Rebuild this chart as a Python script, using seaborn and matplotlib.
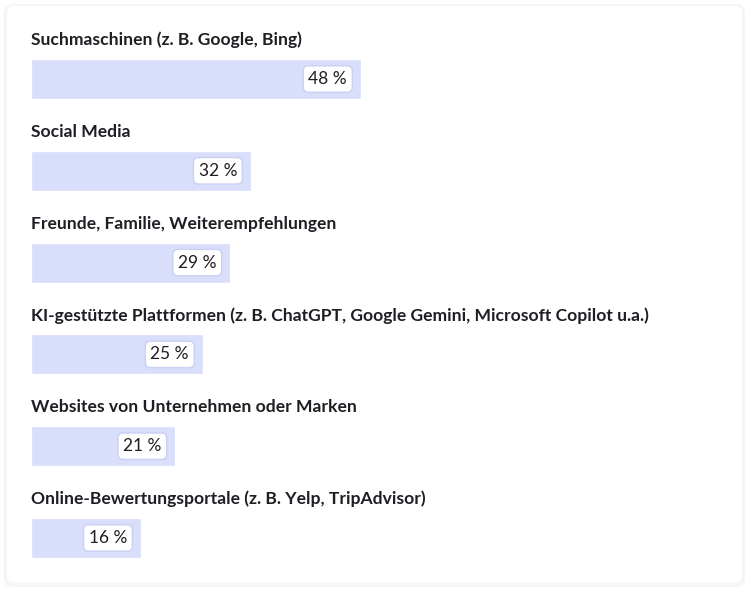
import matplotlib
matplotlib.use("Agg")
import matplotlib.pyplot as plt
from matplotlib.patches import FancyBboxPatch
import pandas as pd
import seaborn as sns

categories = [
    "Suchmaschinen (z. B. Google, Bing)",
    "Social Media",
    "Freunde, Familie, Weiterempfehlungen",
    "KI-gestützte Plattformen (z. B. ChatGPT, Google Gemini, Microsoft Copilot u.a.)",
    "Websites von Unternehmen oder Marken",
    "Online-Bewertungsportale (z. B. Yelp, TripAdvisor)",
]
values = [48, 32, 29, 25, 21, 16]

BAR_COLOR = "#d9defb"
TEXT_COLOR = "#1e1e24"

sns.set_theme(style="white")
plt.rcParams["font.family"] = ["Lato", "DejaVu Sans"]

df = pd.DataFrame({"category": categories, "value": values})

W, H = 750, 591
fig = plt.figure(figsize=(W / 100, H / 100), dpi=100)
fig.patch.set_facecolor("white")

# card with a soft shadow
for i, a in enumerate([0.03, 0.022, 0.015]):
    fig.patches.append(FancyBboxPatch(
        ((6 - i) / W, (8 - 2 - i) / H), (737 + 2 * i) / W, (578 + 2 * i) / H,
        boxstyle="round,pad=0,rounding_size=0.012", transform=fig.transFigure,
        fc="none", ec="black", lw=1.2, alpha=a, zorder=-2))
fig.patches.append(FancyBboxPatch(
    (6 / W, 8 / H), 737 / W, 578 / H,
    boxstyle="round,pad=0,rounding_size=0.012", transform=fig.transFigure,
    fc="white", ec="#f2f2f2", lw=0.8, zorder=-1))

ax = fig.add_axes([31 / W, 0, 687.5 / W, 1])
ax.set_zorder(2)
ax.set_facecolor("none")
sns.barplot(data=df, x="value", y="category", orient="h", color=BAR_COLOR,
            width=0.435, saturation=1, ax=ax)
ax.set_xlim(0, 100)
ax.set_ylim(5 + 53 / 91.8, -79 / 91.8)
ax.axis("off")

for i, (cat, v) in enumerate(zip(categories, values)):
    ax.text(0, i - 0.425, cat, ha="left", va="center", fontsize=12.6,
            fontweight="bold", color=TEXT_COLOR)
    ax.annotate(f"{v} %", xy=(v, i), xytext=(-10, 0), textcoords="offset points",
                ha="right", va="center", fontsize=12.5, color=TEXT_COLOR,
                bbox=dict(boxstyle="round,pad=0.3,rounding_size=0.3",
                          fc="white", ec="#c9d0f3", lw=1.0))

fig.savefig("out.png", dpi=100)
